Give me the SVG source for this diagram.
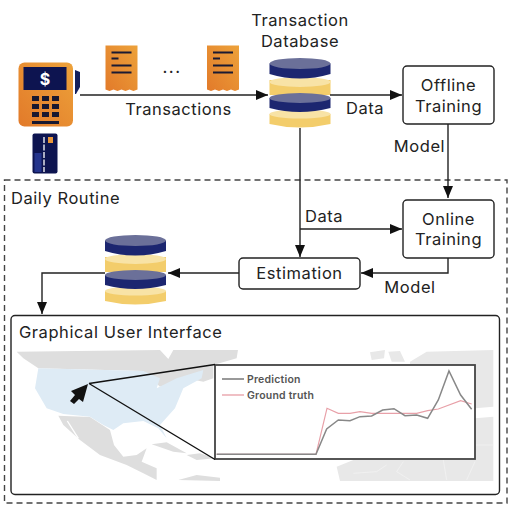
<svg xmlns="http://www.w3.org/2000/svg" xmlns:xlink="http://www.w3.org/1999/xlink" width="512" height="512" viewBox="0 0 512 512">
<style>
text{font-family:Inter,"Liberation Sans",sans-serif;font-size:16.5px;letter-spacing:.55px;fill:#222;text-anchor:middle}
.box{fill:#fff;stroke:#222;stroke-width:1.4}
.con{fill:none;stroke:#222;stroke-width:1.4}
.map{fill:#dedede}
.map2{fill:#e8e8e8}
.us{fill:#deebf5}
</style>
<defs>
<filter id="soft" x="-5%" y="-5%" width="110%" height="110%"><feGaussianBlur stdDeviation="1.800"/></filter>
<marker id="a" markerUnits="userSpaceOnUse" markerWidth="13" markerHeight="10" refX="12" refY="5" orient="auto"><path d="M0 0L12 5L0 10Z" fill="#111"/></marker>
<linearGradient id="og" x1="0" y1="1" x2="1" y2="0"><stop offset="0" stop-color="#e27a2a"/><stop offset="1" stop-color="#eda23a"/></linearGradient>
<g id="db">
<path d="M0 56V66Q30 73 61 66V56Z" fill="#f3cd6b"/><ellipse cx="30.500" cy="56" rx="30.500" ry="4.500" fill="#f8e3a6"/>
<path d="M0 22V37H61V22Z" fill="#f3cd6b"/><ellipse cx="30.500" cy="24" rx="30.500" ry="5" fill="#f8e3a6"/>
<path d="M0 40V50Q30 58 61 50V40Z" fill="#1c2670"/><ellipse cx="30.500" cy="40" rx="30.500" ry="5" fill="#6b7099"/>
<path d="M0 5.500V16Q30 25 61 16V5.500Z" fill="#1c2670"/><ellipse cx="30.500" cy="5.500" rx="30.500" ry="5.500" fill="#6b7099"/>
</g>
<g id="rc">
<path d="M0 0H32V44L28 45.500L24 44L20 45.500L16 44L12 45.500L8 44L4 45.500L0 44Z" fill="url(#og)"/>
<path d="M6 7H26M6 13H13M6 20H26M6 27H26" stroke="#1a1a33" stroke-width="2.200" fill="none"/>
</g>
</defs>
<rect width="512" height="512" fill="#fff"/>
<rect id="daily-routine" x="4.500" y="180" width="502.500" height="323" fill="none" stroke="#444" stroke-width="1.400" stroke-dasharray="6 4"/>
<text x="11" y="204" style="text-anchor:start">Daily Routine</text>

<g id="pos">
<path d="M75 70L80 72V87L76 94L75 94Z" fill="#14205c"/>
<rect x="18.500" y="62.500" width="54.500" height="64" rx="6" fill="url(#og)"/>
<rect x="23.500" y="67" width="43" height="23" fill="#0d1450"/>
<text x="45" y="85" style="font-size:16px;font-weight:700;fill:#fff;letter-spacing:0">$</text>
<path d="M32 96h7v5h-7zM42 96h7v5h-7zM52 96h7v5h-7zM32 104h7v5h-7zM42 104h7v5h-7zM52 104h7v5h-7zM32 112h7v5h-7zM42 112h7v5h-7zM52 112h7v5h-7z" fill="#181830"/>
<rect x="32" y="121" width="27" height="3" fill="#181830"/>
</g>
<g id="card">
<rect x="32.500" y="133.500" width="25" height="40" rx="2" fill="#0d1450"/>
<rect x="34.500" y="153" width="7" height="19" fill="#24348c"/>
<rect x="48" y="137" width="5" height="6" fill="#e8973a"/>
<path d="M44 137V172" stroke="#fff" stroke-width="1.300" stroke-dasharray="6 1.500"/>
</g>
<use id="receipt-1" xlink:href="#rc" href="#rc" x="105.500" y="45.500"/>
<use id="receipt-2" xlink:href="#rc" href="#rc" x="207" y="45.500"/>
<text x="172" y="73" style="font-size:17px;letter-spacing:1.500px">...</text>

<g id="transaction-db"><use href="#db" xlink:href="#db" x="269.500" y="58"/></g>
<text x="300" y="26">Transaction</text>
<text x="300" y="47">Database</text>
<g id="result-db"><use href="#db" xlink:href="#db" x="105" y="235"/></g>

<g id="connectors">
<path class="con" d="M80 95H268" marker-end="url(#a)"/>
<path class="con" d="M330 95H402" marker-end="url(#a)"/>
<path class="con" d="M448 124V198" marker-end="url(#a)"/>
<path class="con" d="M300 128V257" marker-end="url(#a)"/>
<path class="con" d="M300 229H402" marker-end="url(#a)"/>
<path class="con" d="M448 258V273H361" marker-end="url(#a)"/>
<path class="con" d="M239 273H168" marker-end="url(#a)"/>
<path class="con" d="M105 273H42V314" marker-end="url(#a)"/>
</g>

<g id="offline"><rect class="box" x="403" y="66" width="91" height="58" rx="4"/><text x="448.500" y="91">Offline</text><text x="448.500" y="112">Training</text></g>
<g id="online"><rect class="box" x="403" y="200" width="91" height="58" rx="4"/><text x="448.500" y="225">Online</text><text x="448.500" y="245">Training</text></g>
<g id="estimation"><rect class="box" x="239" y="258" width="121" height="31" rx="4"/><text x="299.500" y="279">Estimation</text></g>

<text x="178.500" y="115">Transactions</text>
<text x="365" y="114">Data</text>
<text x="419.500" y="152">Model</text>
<text x="324" y="222">Data</text>
<text x="410" y="293">Model</text>

<g id="gui">
<rect class="box" x="11" y="315.500" width="488.500" height="179" rx="4"/>
<text x="19" y="338" style="text-anchor:start">Graphical User Interface</text>
<g transform="translate(10 345) scale(.3333)" filter="url(#soft)">
<path class="map" d="M20 20L450 15L475 42L490 15H684L680 40L610 60L610 100L580 110L530 100L450 125L400 78L85 70L40 40Z"/>
<path class="us" d="M85 70L400 78L450 100L440 130L500 100L580 75L575 100L520 130L495 190L450 240L470 280L445 250L400 228L340 235L310 255L280 240L240 215L160 207L110 190L75 130Z"/>
<path class="map" d="M145 212L240 216L300 255L312 300L340 335L380 330L410 310L395 350L440 370L440 405L400 385L350 360L270 330L210 285L160 240Z"/>
<path d="M172 228L205 280" stroke="#fff" stroke-width="4" fill="none"/>
<path class="map" d="M425 298L470 292L530 325L490 320ZM530 330L570 325L615 340L560 345ZM505 405L560 390L630 398L630 408Z"/>
</g>
<g transform="translate(360 345) scale(.3333)" filter="url(#soft)">
<path class="map2" d="M30 22L75 15L72 40L35 45ZM85 20L120 18L135 50H95ZM150 50L200 20L400 15V185L345 190V60H150Z"/>
<path class="map2" d="M345 220L400 215V408H-60L-70 365L-20 345H345Z"/>
<path d="M-20 385L50 380L80 360M130 350L110 380L150 405M250 345L260 405M345 350L320 405M345 300H400" stroke="#f4f4f4" stroke-width="2" fill="none"/>
</g>
<rect id="inset" x="215" y="365" width="260" height="94" fill="#fff" stroke="#444" stroke-width="1.800"/>
<path d="M89 383.500L215 364.500M89 383.500L215 459.500" fill="none" stroke="#111" stroke-width="1.400"/>
<path d="M88 384L71 391L75 395L70 401L74 404L79 399L83 402Z" fill="#111"/>
<g transform="translate(200 350) scale(.3333)" fill="none">
<path d="M50 313H348L381 175L415 190L450 190L480 185L515 190L582 190L650 190L683 182L715 177L782 152L815 162" stroke="#e8a0a8" stroke-width="3.500"/>
<path d="M50 313H348L380 237L415 210L450 212L480 200L515 198L548 180L582 176L615 197L650 195L683 205L715 150L747 63L782 135L815 178" stroke="#888" stroke-width="4.500"/>
<path d="M66 87H132" stroke="#666" stroke-width="4"/>
<path d="M66 135H132" stroke="#e8a0a8" stroke-width="4"/>
</g>
<text x="247" y="383" style="text-anchor:start;font-size:10.500px;fill:#555;font-weight:600;letter-spacing:.2px">Prediction</text>
<text x="247" y="399" style="text-anchor:start;font-size:10.500px;fill:#555;font-weight:600;letter-spacing:.2px">Ground truth</text>
</g>
</svg>
